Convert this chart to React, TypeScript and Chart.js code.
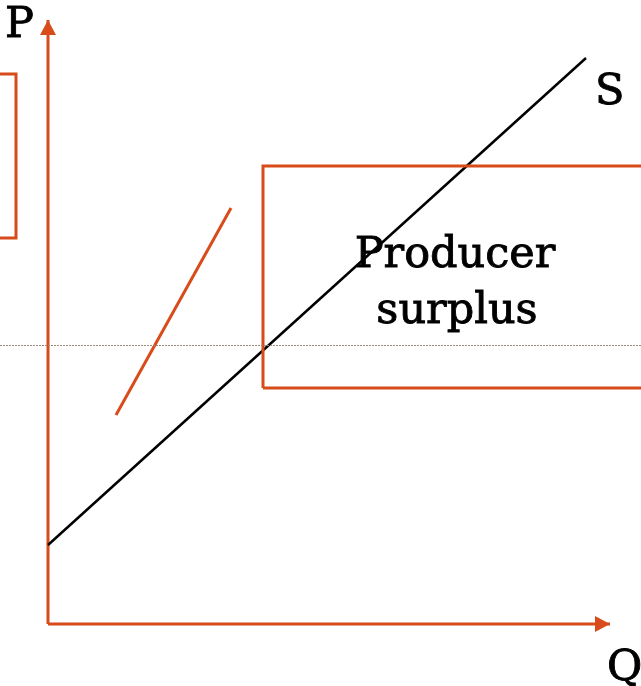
import React, { useEffect, useRef } from "react";
import { Chart, registerables } from "chart.js";

Chart.register(...registerables);

// Coordinates in diagram units (Q horizontal, P vertical), origin at the axes corner
const X_RANGE = [-4.8, 59.3];
const Y_RANGE = [-6.2, 62.4];

const pAxis = [
  { x: 0, y: 0 },
  { x: 0, y: 60.4 },
];
const qAxis = [
  { x: 0, y: 0 },
  { x: 56.2, y: 0 },
];
const supplyCurve = [
  { x: 0, y: 7.9 },
  { x: 53.8, y: 56.6 },
];
const orangeLine = [
  { x: 6.8, y: 20.9 },
  { x: 18.3, y: 41.6 },
];
const priceLevel = [
  { x: -4.8, y: 27.85 },
  { x: 59.3, y: 27.85 },
];
const surplusBox = [
  { x: 21.5, y: 23.6 },
  { x: 62, y: 23.6 },
  { x: 62, y: 45.8 },
  { x: 21.5, y: 45.8 },
  { x: 21.5, y: 23.6 },
];
const leftBox = [
  { x: -7, y: 38.6 },
  { x: -3.2, y: 38.6 },
  { x: -3.2, y: 55.0 },
  { x: -7, y: 55.0 },
  { x: -7, y: 38.6 },
];

const labelTexts = ["P", "S", "Q", "Producer", "surplus"];
const labelX = [-4.3, 54.7, 55.9, 40.7, 40.9];
const labelY = [58.7, 52.0, -5.6, 35.7, 30.1];
const labelAlign: CanvasTextAlign[] = ["left", "left", "left", "center", "center"];

const ORANGE = "#D84B1A";
const FONT = '43px "DejaVu Serif", serif';

const arrowPlugin = {
  id: "arrowHeads",
  afterDatasetsDraw(chart: any) {
    const ctx = chart.ctx;
    chart.data.datasets.forEach((ds: any, i: number) => {
      if (!ds.arrow) return;
      const meta = chart.getDatasetMeta(i);
      const pts = meta.data;
      const a = pts[pts.length - 2];
      const b = pts[pts.length - 1];
      const ang = Math.atan2(b.y - a.y, b.x - a.x);
      const len = 15;
      const half = 8;
      ctx.save();
      ctx.fillStyle = ds.borderColor;
      ctx.beginPath();
      ctx.moveTo(b.x, b.y);
      ctx.lineTo(
        b.x - len * Math.cos(ang) - half * Math.sin(ang),
        b.y - len * Math.sin(ang) + half * Math.cos(ang)
      );
      ctx.lineTo(
        b.x - len * Math.cos(ang) + half * Math.sin(ang),
        b.y - len * Math.sin(ang) - half * Math.cos(ang)
      );
      ctx.closePath();
      ctx.fill();
      ctx.restore();
    });
  },
};

const labelPlugin = {
  id: "diagramLabels",
  afterDatasetsDraw(chart: any) {
    const ctx = chart.ctx;
    const xs = chart.scales.x;
    const ys = chart.scales.y;
    ctx.save();
    ctx.fillStyle = "#000";
    ctx.strokeStyle = "#000";
    ctx.lineWidth = 0.9;
    ctx.font = FONT;
    ctx.textBaseline = "alphabetic";
    labelTexts.forEach((t, i) => {
      ctx.textAlign = labelAlign[i];
      const px = xs.getPixelForValue(labelX[i]);
      const py = ys.getPixelForValue(labelY[i]);
      ctx.fillText(t, px, py);
      ctx.strokeText(t, px, py);
    });
    ctx.restore();
  },
};

function line(data: any[], color: string, width: number, extra: any = {}) {
  return {
    data,
    borderColor: color,
    backgroundColor: color,
    borderWidth: width,
    showLine: true,
    pointRadius: 0,
    pointHoverRadius: 0,
    tension: 0,
    fill: false,
    ...extra,
  };
}

export default function App() {
  const ref = useRef<HTMLCanvasElement>(null);
  useEffect(() => {
    if (!ref.current) return;
    const chart = new Chart(ref.current, {
      type: "scatter",
      data: {
        datasets: [
          line(priceLevel, "#9C8A78", 1, { borderDash: [2, 1] }),
          line(leftBox, ORANGE, 3),
          line(surplusBox, ORANGE, 3),
          line(orangeLine, ORANGE, 3),
          line(supplyCurve, "#000000", 2.5),
          line(pAxis, ORANGE, 3, { arrow: true }),
          line(qAxis, ORANGE, 3, { arrow: true }),
        ] as any,
      },
      options: {
        animation: false,
        responsive: false,
        maintainAspectRatio: false,
        layout: { padding: 0 },
        events: [],
        plugins: {
          legend: { display: false },
          tooltip: { enabled: false },
        },
        scales: {
          x: { type: "linear", min: X_RANGE[0], max: X_RANGE[1], display: false },
          y: { type: "linear", min: Y_RANGE[0], max: Y_RANGE[1], display: false },
        },
      },
      plugins: [arrowPlugin, labelPlugin],
    });
    return () => chart.destroy();
  }, []);
  return (
    <div style={{ position: "fixed", left: 0, top: 0, width: 641, height: 686, background: "#fff" }}>
      <canvas ref={ref} width={641} height={686} style={{ display: "block" }} />
    </div>
  );
}
